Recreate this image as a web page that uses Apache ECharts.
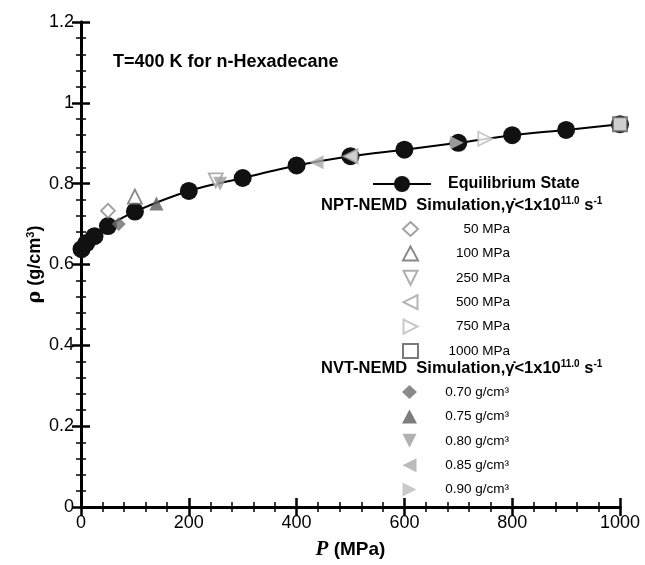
<!DOCTYPE html>
<html><head><meta charset="utf-8">
<script src="https://cdn.jsdelivr.net/npm/echarts@6/dist/echarts.min.js"></script>
<style>html,body{margin:0;padding:0;background:#fff}#c{width:645px;height:565px}</style>
</head><body><div id="c"></div>
<script>
// ---- data ----
const eqP   = [1, 10, 25, 50, 100, 200, 300, 400, 500, 600, 700, 800, 900, 1000];
const eqRho = [0.638, 0.653, 0.670, 0.695, 0.731, 0.782, 0.814, 0.845, 0.868, 0.884, 0.901, 0.920, 0.933, 0.947];

const nptNames = ['50 MPa', '100 MPa', '250 MPa', '500 MPa', '750 MPa', '1000 MPa'];
const nptP     = [50, 100, 250, 500, 750, 1000];
const nptRho   = [0.733, 0.768, 0.808, 0.868, 0.911, 0.947];

const nvtNames = ['0.70 g/cm\u00b3', '0.75 g/cm\u00b3', '0.80 g/cm\u00b3', '0.85 g/cm\u00b3', '0.90 g/cm\u00b3'];
const nvtP     = [70, 140, 258, 437, 697];
const nvtRho   = [0.700, 0.751, 0.800, 0.853, 0.901];

const xTicks = [0, 200, 400, 600, 800, 1000];
const yTicks = [0, 0.2, 0.4, 0.6, 0.8, 1, 1.2];

// ---- styles ----
const DOWN = 'path://M0,0 L10,0 L5,10 Z';
const LEFT = 'path://M10,0 L10,10 L0,5 Z';
const RIGHT = 'path://M0,0 L0,10 L10,5 Z';
const nptSymbols = ['diamond', 'triangle', DOWN, LEFT, RIGHT, 'rect'];
const nptColors = ['#8a8a8a', '#6a6a6a', '#9a9a9a', '#a2a2a2', '#bababa', '#5a5a5a'];
const nvtSymbols = ['diamond', 'triangle', DOWN, LEFT, RIGHT];
const nvtColors = ['#6e6e6e', '#5c5c5c', '#9e9e9e', '#aaaaaa', '#bbbbbb'];
const SANS = "'Liberation Sans', Arial, sans-serif";

const series = [{
  name: 'Equilibrium State', type: 'line', smooth: 0.3,
  data: eqP.map((p, i) => [p, eqRho[i]]),
  symbol: 'circle', symbolSize: 18,
  lineStyle: {color: '#000', width: 2},
  itemStyle: {color: '#111'}, z: 2
}];
nptNames.forEach((n, i) => series.push({
  name: n, type: 'scatter', data: [[nptP[i], nptRho[i]]],
  symbol: nptSymbols[i], symbolSize: 14,
  itemStyle: {color: '#fff', borderColor: nptColors[i], borderWidth: 1.8}, z: 3
}));
nvtNames.forEach((n, i) => series.push({
  name: n, type: 'scatter', data: [[nvtP[i], nvtRho[i]]],
  symbol: nvtSymbols[i], symbolSize: 14,
  itemStyle: {color: nvtColors[i]}, z: 4
}));

const axisCommon = {
  axisLine: {show: true, lineStyle: {color: '#000', width: 3}},
  axisTick: {show: true, inside: true, length: 9, lineStyle: {color: '#000', width: 2.5}},
  minorTick: {show: true, splitNumber: 5, length: 5, lineStyle: {color: '#000', width: 1.5}},
  splitLine: {show: false}
};
const legendText = {
  color: '#000', fontFamily: SANS, fontSize: 13,
  rich: {a: {width: 87, align: 'right', fontFamily: SANS, fontSize: 13.5, color: '#000'}}
};
const headerRich = {sup: {fontSize: 10, fontWeight: 'bold', fontFamily: SANS, verticalAlign: 'top', padding: [0, 0, 9, 0], color: '#000'}};
const headerTxt = (pre) => pre + '-NEMD  Simulation,\u03b3\u0307<1x10{sup|11.0} s{sup|-1}';

const chart = echarts.init(document.getElementById('c'), null, {renderer: 'canvas'});
chart.setOption({
  animation: false,
  backgroundColor: '#fff',
  grid: {left: 81, top: 22, width: 539, height: 494, containLabel: false},
  title: {text: 'T=400 K for n-Hexadecane', left: 108, top: 48,
    textStyle: {fontFamily: SANS, fontSize: 18, fontWeight: 'bold', color: '#000'}},
  xAxis: [Object.assign({
    type: 'value', min: xTicks[0], max: xTicks[xTicks.length - 1], interval: 200,
    axisLabel: {color: '#000', fontSize: 18, fontFamily: SANS, margin: 7, formatter: (v) => String(v)},
    name: '{i|P} (MPa)', nameLocation: 'middle', nameGap: 32,
    nameTextStyle: {fontFamily: SANS, fontSize: 19, fontWeight: 'bold', color: '#000',
      rich: {i: {fontFamily: "'Liberation Serif', serif", fontStyle: 'italic', fontWeight: 'bold', fontSize: 21, color: '#000'}}}
  }, axisCommon), Object.assign({
    type: 'value', position: 'top', min: 0, max: 1000, interval: 200, axisLabel: {show: false}
  }, axisCommon)],
  yAxis: [Object.assign({
    type: 'value', min: yTicks[0], max: yTicks[yTicks.length - 1], interval: 0.2,
    axisLabel: {color: '#000', fontSize: 18, fontFamily: SANS, margin: 7, formatter: (v) => String(+v.toFixed(1))},
    name: '{r|\u03c1} (g/cm{s|3})', nameLocation: 'middle', nameGap: 36, nameRotate: 90, nameMoveOverlap: false,
    nameTextStyle: {fontFamily: SANS, fontSize: 18, fontWeight: 'bold', color: '#000',
      rich: {r: {fontFamily: "'DejaVu Serif', serif", fontSize: 19, color: '#000'},
             s: {fontSize: 11, fontWeight: 'bold', verticalAlign: 'top', padding: [0, 0, 9, 0], color: '#000'}}}
  }, axisCommon), Object.assign({
    type: 'value', position: 'right', min: 0, max: 1.2, interval: 0.2, axisLabel: {show: false}
  }, axisCommon)],
  legend: [{
    data: ['Equilibrium State'], left: 367, top: 171, itemWidth: 58, itemHeight: 20,
    formatter: '{b|{name}}',
    textStyle: {color: '#000', rich: {b: {fontFamily: SANS, fontSize: 16, fontWeight: 'bold', color: '#000', padding: [0, 0, 0, 12]}}}
  }, {
    data: nptNames, orient: 'vertical', left: 397, top: 216, itemWidth: 15, itemHeight: 14, itemGap: 8.4,
    formatter: '{a|{name}}', textStyle: legendText
  }, {
    data: nvtNames, orient: 'vertical', left: 397, top: 380, itemWidth: 15, itemHeight: 14, itemGap: 10.4,
    formatter: '{a|{name}}', textStyle: legendText
  }],
  graphic: [{
    type: 'text', left: 321, top: 196,
    style: {text: headerTxt('NPT'), font: 'bold 16.5px ' + SANS, fill: '#000', rich: headerRich}
  }, {
    type: 'text', left: 321, top: 359,
    style: {text: headerTxt('NVT'), font: 'bold 16.5px ' + SANS, fill: '#000', rich: headerRich}
  }],
  series: series
});
</script></body></html>
